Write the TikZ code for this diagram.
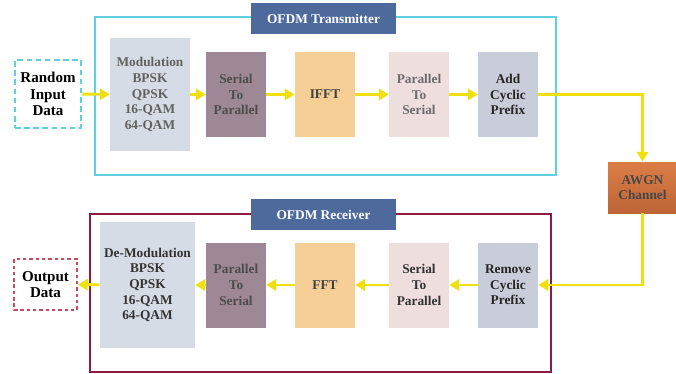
\documentclass[tikz,border=0pt]{standalone}
\usepackage{fontspec}
\setmainfont{Liberation Serif}
\usetikzlibrary{arrows.meta}
\usetikzlibrary{positioning}

\definecolor{txline}{HTML}{5FD0E2}
\definecolor{rxline}{HTML}{8E1C3E}
\definecolor{titlefill}{HTML}{4E6A9C}
\definecolor{modfill}{HTML}{D6DCE6}
\definecolor{mauvefill}{HTML}{9E8896}
\definecolor{fftfill}{HTML}{F5CF95}
\definecolor{pinkfill}{HTML}{EFDEDE}
\definecolor{cpfill}{HTML}{C9CDD9}
\definecolor{arrowyellow}{HTML}{F0E010}
\definecolor{awgntop}{HTML}{DC7D46}
\definecolor{awgnbot}{HTML}{BD6537}
\definecolor{outline}{HTML}{C84A5C}

\begin{document}
\begin{tikzpicture}[x=0.025cm,y=-0.025cm,
  every node/.style={inner sep=0pt,align=center,font=\fontsize{9.5}{11.1}\selectfont\bfseries},
  blk/.style={minimum width=60*0.025cm,minimum height=85*0.025cm},
  ttl/.style={fill=titlefill,text=white,minimum width=145*0.025cm,minimum height=31*0.025cm},
  io/.style={font=\fontsize{10.7}{11.6}\selectfont\bfseries},
  arr/.style={arrowyellow,line width=2.1pt,-{Triangle[length=7pt,width=8pt]}}]
\useasboundingbox (0,0) rectangle (676,374);
% frames
\draw[txline,line width=1.3pt] (95,17) rectangle (556,175);
\draw[rxline,line width=1.6pt] (90,214) rectangle (551,372);
\node[ttl] (txtitle) at (323.5,18.5) {OFDM Transmitter};
\node[ttl] (rxtitle) at (323.5,214.5) {OFDM Receiver};
% transmitter
\node[io,draw=txline,line width=1.6pt,dash pattern=on 4pt off 2.5pt,minimum width=66*0.025cm,minimum height=68*0.025cm] (rin) at (48,94) {Random\\Input\\Data};
\node[fill=modfill,text=black!62,minimum width=80*0.025cm,minimum height=113*0.025cm] (mod) at (150,94.5) {Modulation\\BPSK\\QPSK\\16-QAM\\64-QAM};
\node[blk,fill=mauvefill,text=black!70] (sp1) at (236,94.5) {Serial\\To\\Parallel};
\node[blk,fill=fftfill,text=black!75] (ifft) at (325,94.5) {IFFT};
\node[blk,fill=pinkfill,text=black!58] (ps1) at (419,94.5) {Parallel\\To\\Serial};
\node[blk,fill=cpfill,text=black!85] (acp) at (508,94.5) {Add\\Cyclic\\Prefix};
% channel
\node[top color=awgntop,bottom color=awgnbot,text=black!72,minimum width=69*0.025cm,minimum height=51*0.025cm] (awgn) at (642.5,187.5) {AWGN\\Channel};
% receiver
\node[io,draw=outline,line width=1.3pt,dash pattern=on 2.5pt off 2pt,minimum width=63*0.025cm,minimum height=51*0.025cm] (outd) at (45.5,284.5) {Output\\Data};
\node[fill=modfill,text=black!80,minimum width=95*0.025cm,minimum height=126*0.025cm] (demod) at (147.5,285) {De-Modulation\\BPSK\\QPSK\\16-QAM\\64-QAM};
\node[blk,fill=mauvefill,text=black!70] (ps2) at (236,285) {Parallel\\To\\Serial};
\node[blk,fill=fftfill,text=black!75] (fft) at (325,285) {FFT};
\node[blk,fill=pinkfill,text=black!80] (sp2) at (419,285) {Serial\\To\\Parallel};
\node[blk,fill=cpfill,text=black!85] (rcp) at (508,285) {Remove\\Cyclic\\Prefix};
% connections
\draw[arr] (rin) -- (mod);
\draw[arr] (mod) -- (sp1);
\draw[arr] (sp1) -- (ifft);
\draw[arr] (ifft) -- (ps1);
\draw[arr] (ps1) -- (acp);
\draw[arr] (acp.east) -| (awgn.north);
\draw[arr] (awgn.south) |- (rcp.east);
\draw[arr] (rcp) -- (sp2);
\draw[arr] (sp2) -- (fft);
\draw[arr] (fft) -- (ps2);
\draw[arr] (ps2) -- (demod);
\draw[arr] (demod) -- (outd);
\end{tikzpicture}
\end{document}
